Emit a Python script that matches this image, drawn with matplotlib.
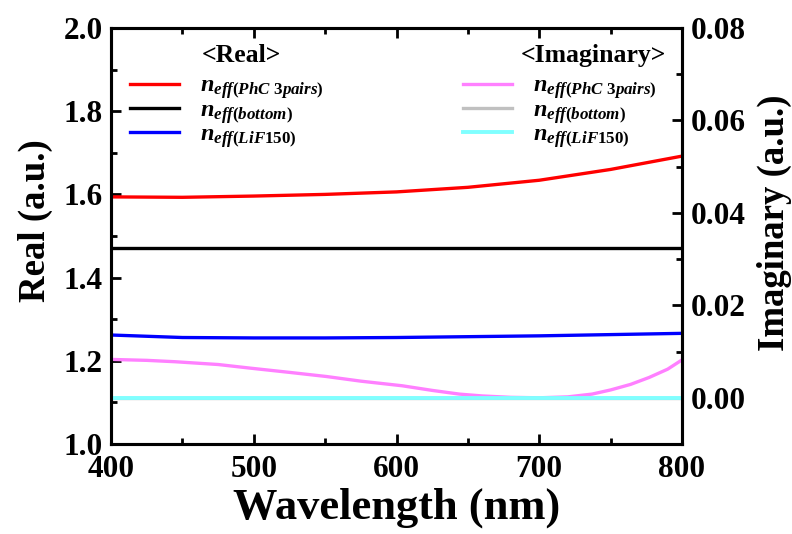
import numpy as np
import matplotlib
matplotlib.use('Agg')
import matplotlib.pyplot as plt
from matplotlib.ticker import MultipleLocator

###############################################################################
# Style
###############################################################################
plt.rcParams['font.family'] = ['Liberation Serif', 'DejaVu Serif']
plt.rcParams['font.weight'] = 'bold'
plt.rcParams['mathtext.fontset'] = 'custom'
plt.rcParams['mathtext.rm'] = 'Liberation Serif:bold'
plt.rcParams['mathtext.it'] = 'Liberation Serif:bold:italic'
plt.rcParams['mathtext.bf'] = 'Liberation Serif:bold'
(TICK_FS, LAB_FS, XLAB_FS, LEG_FS, TIT_FS) = (22.5, 26.5, 32, 17.5, 18.5)

###############################################################################
# Data
###############################################################################
wl = [400, 450, 500, 550, 600, 650, 700, 750, 800]
realPhC = [1.594, 1.593, 1.596, 1.600, 1.606, 1.617, 1.634, 1.660, 1.692]
realBottom = [1.47, 1.47, 1.47, 1.47, 1.47, 1.47, 1.47, 1.47, 1.47]
realLiF = [1.262, 1.256, 1.255, 1.255, 1.256, 1.258, 1.260, 1.263, 1.266]

wlImag = [400, 425, 445, 475, 498, 525, 551, 575, 604, 625, 644, 660, 680,
          700, 720, 737, 750, 764, 777, 790, 800]
imagPhC = [0.0083, 0.0081, 0.0078, 0.0072, 0.0064, 0.0055, 0.0046, 0.0036,
           0.0026, 0.0016, 0.0008, 0.0004, 0.0001, 0.0, 0.0002, 0.0008,
           0.0017, 0.0029, 0.0044, 0.0062, 0.0082]
imagBottom = [0.0] * len(wlImag)
imagLiF = [0.0] * len(wlImag)

labels = [
    r'$n_{eff(PhC\ 3pairs)}$',
    r'$n_{eff(bottom)}$',
    r'$n_{eff(LiF150)}$',
]

###############################################################################
# Figure
###############################################################################
fig = plt.figure(figsize=(7.92, 5.34), dpi=100)
ax = fig.add_axes([0.1402, 0.1685, 0.7209, 0.7791])
ax2 = ax.twinx()

hR = []
hR += ax.plot(wl, realPhC, color='#ff0000', lw=2.4)
hR += ax.plot(wl, realBottom, color='#000000', lw=2.4)
hR += ax.plot(wl, realLiF, color='#0000ff', lw=2.4)

hI = []
hI += ax2.plot(wlImag, imagPhC, color='#ff80ff', lw=2.4)
hI += ax2.plot(wlImag, imagBottom, color='#c0c0c0', lw=2.4)
hI += ax2.plot(wlImag, imagLiF, color='#80ffff', lw=2.8)

ax.set_xlim(400, 800)
ax.set_ylim(1.0, 2.0)
ax2.set_ylim(-0.01, 0.08)

ax.xaxis.set_major_locator(MultipleLocator(100))
ax.xaxis.set_minor_locator(MultipleLocator(50))
ax.yaxis.set_major_locator(MultipleLocator(0.2))
ax.yaxis.set_minor_locator(MultipleLocator(0.1))
ax2.yaxis.set_major_locator(MultipleLocator(0.02))
ax2.yaxis.set_minor_locator(MultipleLocator(0.01))
ax.yaxis.set_major_formatter(plt.FormatStrFormatter('%.1f'))
ax2.yaxis.set_major_formatter(plt.FormatStrFormatter('%.2f'))

for a in (ax, ax2):
    for s in a.spines.values():
        s.set_linewidth(2.2)
ax.tick_params(which='both', direction='in', top=True, right=False,
               width=2, labelsize=TICK_FS, pad=6)
ax.tick_params(axis='x', which='both', pad=8)
ax.tick_params(which='major', length=7)
ax.tick_params(which='minor', length=4)
ax2.tick_params(which='both', direction='in', width=2, labelsize=TICK_FS,
                pad=6)
ax2.tick_params(which='major', length=7)
ax2.tick_params(which='minor', length=4)

ax.set_xlabel('Wavelength (nm)', fontsize=XLAB_FS, fontweight='bold')
ax.set_ylabel('Real (a.u.)', fontsize=LAB_FS, fontweight='bold')
ax2.set_ylabel('Imaginary (a.u.)', fontsize=LAB_FS, fontweight='bold')
ax.xaxis.set_label_coords(0.5, -0.105)
ax.yaxis.set_label_coords(-0.1016, 0.538)
ax2.yaxis.set_label_coords(1.1313, 0.531)

# Legends ---------------------------------------------------------------------
legKw = dict(
    loc='upper left', frameon=False, fontsize=LEG_FS,
    handlelength=2.0, handletextpad=0.86, labelspacing=-0.08,
    borderaxespad=0, borderpad=0
)
legR = ax2.legend(hR, labels, bbox_to_anchor=(0.0333, 0.887), **legKw)
ax2.add_artist(legR)
ax2.legend(hI, labels, bbox_to_anchor=(0.6165, 0.887), **legKw)
ax2.text(0.2277, 0.933, '<Real>', transform=ax2.transAxes, ha='center',
         va='center', fontsize=TIT_FS, fontweight='bold')
ax2.text(0.845, 0.933, '<Imaginary>', transform=ax2.transAxes, ha='center',
         va='center', fontsize=TIT_FS, fontweight='bold')

fig.savefig('out.png', dpi=100)
